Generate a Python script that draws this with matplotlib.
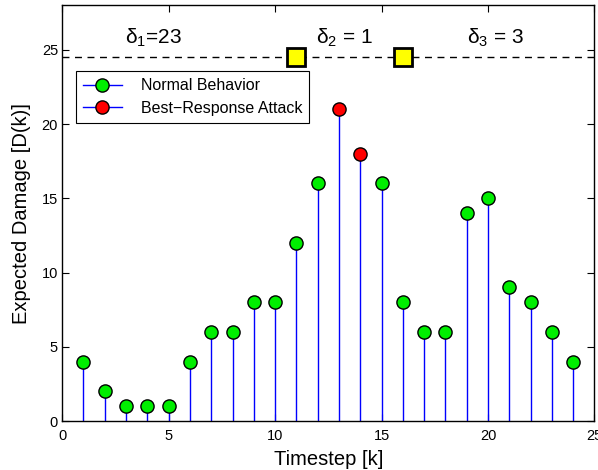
import numpy as np
import matplotlib
matplotlib.use("Agg")
import matplotlib.pyplot as plt
from matplotlib.legend_handler import HandlerLine2D
from matplotlib.lines import Line2D

plt.rcParams['font.family'] = ['Liberation Sans', 'DejaVu Sans']
plt.rcParams['mathtext.fontset'] = 'custom'
plt.rcParams['mathtext.rm'] = 'Liberation Sans'
plt.rcParams['mathtext.it'] = 'Liberation Sans:italic'

# data
normal_k = [1, 2, 3, 4, 5, 6, 7, 8, 9, 10, 11, 12, 15, 16, 17, 18, 19, 20, 21, 22, 23, 24]
normal_d = [4, 2, 1, 1, 1, 4, 6, 6, 8, 8, 12, 16, 16, 8, 6, 6, 14, 15, 9, 8, 6, 4]
attack_k = [13, 14]
attack_d = [21, 18]
threshold = 24.5
switch_k = [11, 16]
delta_labels = ['δ$_1$=23', 'δ$_2$ = 1', 'δ$_3$ = 3']
delta_x = [2.96, 11.94, 19.03]


class EndMarker(HandlerLine2D):
    # put the legend marker at the right end of the line, like MATLAB
    def get_xdata(self, legend, xdescent, ydescent, width, height, fontsize):
        xd, _ = super().get_xdata(legend, xdescent, ydescent, width, height, fontsize)
        return xd, [xd[-1]]


fig = plt.figure(figsize=(5.98, 4.70), dpi=100)
ax = fig.add_axes([0.104, 0.104, 0.890, 0.885])

ax.vlines(normal_k, 0, normal_d, color='blue', lw=1)
ax.vlines(attack_k, 0, attack_d, color='blue', lw=1)
ax.plot(normal_k, normal_d, 'o', ms=9.5, mfc='#00ee00', mec='k', mew=1)
ax.plot(attack_k, attack_d, 'o', ms=9.5, mfc='red', mec='k', mew=1)

ax.axhline(threshold, color='k', ls='--', lw=1, dashes=(5, 4))
ax.plot(switch_k, [threshold] * len(switch_k), 's', ms=12.5, mfc='yellow', mec='k', mew=2)

for lab, x in zip(delta_labels, delta_x):
    ax.text(x, 25.4, lab, fontsize=15, ha='left', va='baseline')

h1 = Line2D([], [], color='blue', lw=1, marker='o', ms=9.5, mfc='#00ee00', mec='k')
h2 = Line2D([], [], color='blue', lw=1, marker='o', ms=9.5, mfc='red', mec='k')
leg = ax.legend([h1, h2], ['Normal Behavior', 'Best\u2212Response Attack'],
                handler_map={Line2D: EndMarker(numpoints=1)},
                loc='upper left', bbox_to_anchor=(0.026, 0.841), borderaxespad=0,
                fontsize=11.5, fancybox=False, edgecolor='k', framealpha=1,
                handlelength=2.4, handletextpad=1.2, borderpad=0.45, labelspacing=0.45)
leg.get_frame().set_linewidth(0.8)

ax.set_xlim(0, 25)
ax.set_ylim(0, 28)
ax.set_xticks([0, 5, 10, 15, 20, 25])
ax.set_yticks([0, 5, 10, 15, 20, 25])
ax.tick_params(direction='in', top=True, right=True, labelsize=10.5, length=5)
ax.tick_params(axis='x', pad=5.5)
ax.tick_params(axis='y', pad=3)
for s in ax.spines.values():
    s.set_linewidth(1)

ax.set_xlabel('Timestep [k]', fontsize=14.5, labelpad=5)
ax.set_ylabel('Expected Damage [D(k)]', fontsize=14.5, labelpad=8)

fig.savefig('out.png', dpi=100)
